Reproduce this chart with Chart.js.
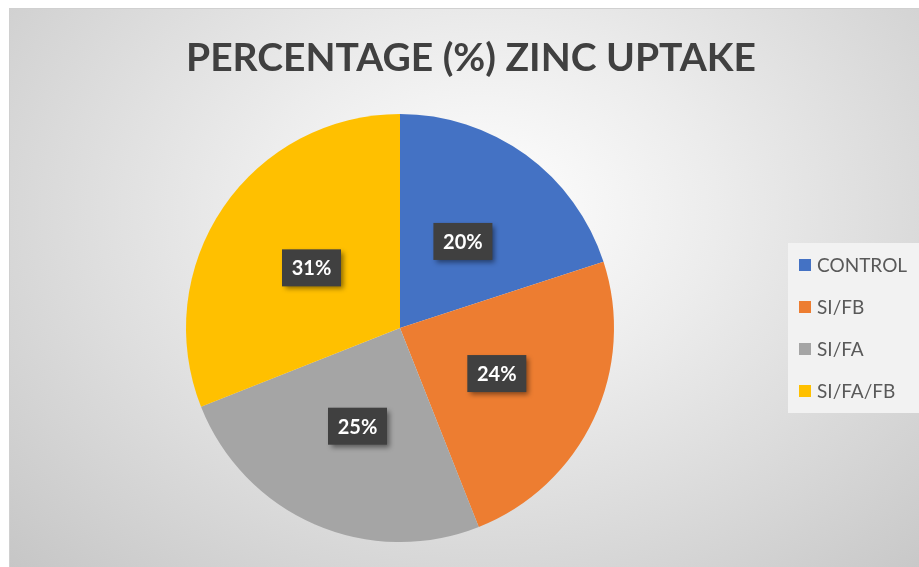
<!DOCTYPE html>
<html>
<head>
<meta charset="utf-8">
<title>Percentage (%) Zinc Uptake</title>
<script src="https://cdn.jsdelivr.net/npm/chart.js@4.4.1/dist/chart.umd.min.js"></script>
<style>
    html, body {
        margin: 0;
        padding: 0;
        background: #ffffff;
        width: 919px;
        height: 567px;
        overflow: hidden;
    }
    .chart-frame {
        position: absolute;
        left: 9px;
        top: 8px;
        width: 912px;
        height: 561px;
        box-sizing: border-box;
        border: 1px solid #d0d0d0;
        background: radial-gradient(ellipse farthest-corner at 52% 36%, #ffffff 0%, #ececec 35%, #c6c6c6 100%);
    }
    .chart-box {
        position: relative;
        width: 910px;
        height: 559px;
    }
</style>
</head>
<body>
<div class="chart-frame">
    <div class="chart-box">
        <canvas id="zincChart"></canvas>
    </div>
</div>

<script>
// Chart data
const categories = ['CONTROL', 'SI/FB', 'SI/FA', 'SI/FA/FB'];
const uptakeValues = [20, 24, 25, 31];
const sliceColors = ['#4472C4', '#ED7D31', '#A5A5A5', '#FFC000'];
const chartTitle = 'PERCENTAGE (%) ZINC UPTAKE';

// Title centred over the whole frame (not just the pie area)
const frameTitle = {
    id: 'frameTitle',
    afterDraw: function(chart) {
        const ctx = chart.ctx;
        ctx.save();
        ctx.font = 'bold 39px Lato, "Open Sans", sans-serif';
        ctx.fillStyle = '#404040';
        ctx.textAlign = 'center';
        ctx.textBaseline = 'middle';
        ctx.fillText(chartTitle, chart.width / 2 + 6, 49);
        ctx.restore();
    }
};

// Legend on the right, drawn from the chart's own labels and colours
const sideLegend = {
    id: 'sideLegend',
    afterDraw: function(chart) {
        const ctx = chart.ctx;
        const area = chart.chartArea;
        const labels = chart.data.labels;
        const colors = chart.data.datasets[0].backgroundColor;
        const step = 42;
        const midY = (area.top + area.bottom) / 2;
        const firstY = midY - step * (labels.length - 1) / 2;
        const left = 778;

        ctx.save();
        ctx.fillStyle = '#f2f2f2';
        ctx.fillRect(left, firstY - 22, 132, step * (labels.length - 1) + 44);

        ctx.font = '19px Lato, "Open Sans", sans-serif';
        ctx.textAlign = 'left';
        ctx.textBaseline = 'middle';
        labels.forEach((label, i) => {
            const y = firstY + i * step;
            ctx.fillStyle = colors[i];
            ctx.fillRect(left + 11, y - 6, 12, 12);
            ctx.fillStyle = '#595959';
            ctx.fillText(label, left + 29, y + 1);
        });
        ctx.restore();
    }
};

// Dark percentage labels in the middle of each slice
const sliceLabels = {
    id: 'sliceLabels',
    afterDatasetsDraw: function(chart) {
        const ctx = chart.ctx;
        const meta = chart.getDatasetMeta(0);
        const values = chart.data.datasets[0].data;
        const total = values.reduce((a, b) => a + b, 0);

        ctx.save();
        ctx.font = 'bold 20px Lato, "Open Sans", sans-serif';
        ctx.textAlign = 'center';
        ctx.textBaseline = 'middle';

        meta.data.forEach((arc, i) => {
            const pos = arc.tooltipPosition();
            const text = Math.round(values[i] / total * 100) + '%';
            const w = 59;
            const h = 37;

            ctx.shadowColor = 'rgba(0, 0, 0, 0.45)';
            ctx.shadowBlur = 5;
            ctx.shadowOffsetX = 3;
            ctx.shadowOffsetY = 3;
            ctx.fillStyle = '#404040';
            ctx.fillRect(pos.x - w / 2, pos.y - h / 2, w, h);

            ctx.shadowColor = 'transparent';
            ctx.fillStyle = '#ffffff';
            ctx.fillText(text, pos.x, pos.y + 1);
        });
        ctx.restore();
    }
};

function initializeZincChart() {
    const ctx = document.getElementById('zincChart');
    if (!ctx) return;

    new Chart(ctx, {
        type: 'pie',
        data: {
            labels: categories,
            datasets: [{
                data: uptakeValues,
                backgroundColor: sliceColors,
                borderWidth: 0
            }]
        },
        options: {
            responsive: true,
            maintainAspectRatio: false,
            animation: false,
            layout: {
                padding: { top: 105, bottom: 26, left: 0, right: 130 }
            },
            plugins: {
                title: { display: false },
                legend: { display: false },
                tooltip: { enabled: false }
            }
        },
        plugins: [frameTitle, sideLegend, sliceLabels]
    });
}

document.addEventListener('DOMContentLoaded', function() {
    initializeZincChart();
});
</script>
</body>
</html>
